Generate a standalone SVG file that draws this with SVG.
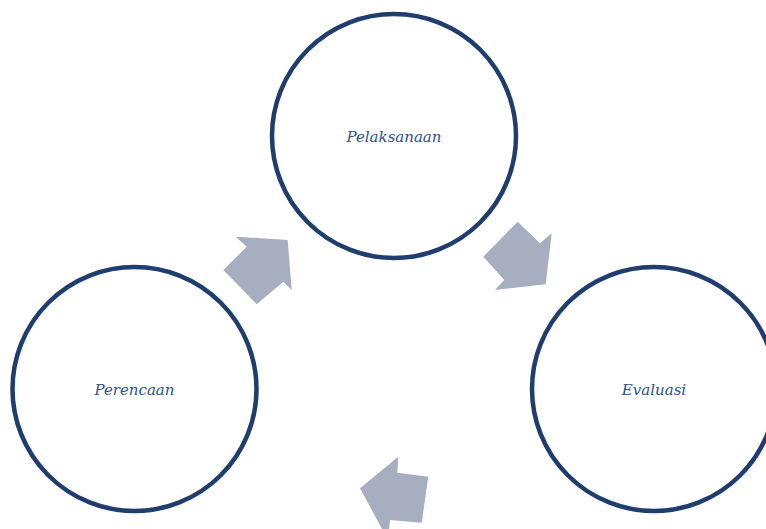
<svg xmlns="http://www.w3.org/2000/svg" width="766" height="529" viewBox="0 0 766 529">
<style>
.c{fill:#fff;stroke:#1f3d6f;stroke-width:4.5}
.t{font-family:"DejaVu Serif","Liberation Serif",serif;font-style:italic;font-size:15px;fill:#2e5189;text-anchor:middle}
.a{fill:#a7aebf}
</style>
<rect width="766" height="529" fill="#fff"/>
<g id="connectors">
<polygon class="a" points="235.7,236.7 287.7,240 291.7,290 283.3,281.7 256.7,304.3 223.3,270 246.7,246.7"/>
<polygon class="a" points="517.7,221.7 540,243.3 551.7,233.3 545.7,284.3 495,290 504.3,280 483.3,256.7"/>
<polygon class="a" points="398.3,456.7 397.3,472.7 428.3,476.7 421.7,522.7 390,520 388,540 360,488.3"/>
</g>
<g id="pelaksanaan">
<circle class="c" cx="394" cy="136" r="122"/>
<text class="t" x="394" y="142">Pelaksanaan</text>
</g>
<g id="perencaan">
<circle class="c" cx="134.5" cy="389" r="122"/>
<text class="t" x="134.5" y="395">Perencaan</text>
</g>
<g id="evaluasi">
<circle class="c" cx="654" cy="389" r="122"/>
<text class="t" x="654" y="395">Evaluasi</text>
</g>
</svg>
